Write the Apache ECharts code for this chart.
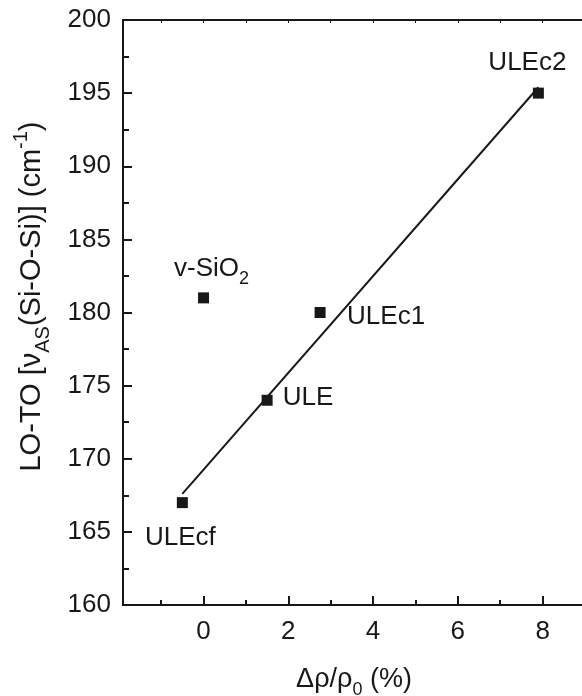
<!DOCTYPE html>
<html>
<head>
<meta charset="utf-8">
<script src="https://cdn.jsdelivr.net/npm/echarts@6/dist/echarts.min.js"></script>
<style>
html, body { margin: 0; padding: 0; background: #fff; }
#chart { width: 582px; height: 696px; }
</style>
</head>
<body>
<div id="chart"></div>
<script>
// sample points
const sampleNames = ['ULEcf', 'v-SiO2', 'ULE', 'ULEc1', 'ULEc2']
const densityChange = [-0.5, 0, 1.5, 2.75, 7.9]   // Δρ/ρ0 (%)
const lotoShift = [167, 181, 174, 180, 195]         // cm-1

// linear fit (drawn as a line between its ends)
const fitX = [-0.5, 7.9]
const fitY = [167.6, 195.4]

// ticks
const xMajorTicks = [0, 2, 4, 6, 8]
const xMinorTicks = [-1, 1, 3, 5, 7]

const ink = '#1a1718'
const font = 'Liberation Sans, Arial, sans-serif'

// label text + where it sits around its point
const labelText = {
    'ULEcf': 'ULEcf',
    'v-SiO2': 'v-SiO{sub|2}',
    'ULE': 'ULE',
    'ULEc1': 'ULEc1',
    'ULEc2': 'ULEc2'
}
const labelOffset = {
    'ULEcf': [-2, 35],
    'v-SiO2': [8, -29],
    'ULE': [41, -2],
    'ULEc1': [66, 4],
    'ULEc2': [-11, -30]
}

const subRich = {
    sub: { fontSize: 18, fontFamily: font, color: ink, lineHeight: 16, verticalAlign: 'bottom' },
    sup: { fontSize: 18, fontFamily: font, color: ink, lineHeight: 16, verticalAlign: 'top' }
}

const points = sampleNames.map((n, i) => ({
    name: n,
    value: [densityChange[i], lotoShift[i]],
    label: { offset: labelOffset[n] }
}))

const xMin = -1.9
const xMax = 9

const chart = echarts.init(document.getElementById('chart'))
chart.setOption({
    animation: false,
    backgroundColor: '#fff',
    grid: { left: 123, top: 20, width: 462, height: 585, outerBoundsMode: 'none', containLabel: false },
    xAxis: [{
        type: 'value',
        position: 'bottom',
        min: xMin,
        max: xMax,
        name: 'Δρ/ρ{sub|0} (%)',
        nameLocation: 'middle',
        nameGap: 56,
        nameTextStyle: {
            fontSize: 27, fontFamily: font, color: ink, lineHeight: 38,
            rich: subRich
        },
        axisLine: { onZero: false, lineStyle: { color: ink, width: 2 } },
        axisTick: { inside: true, length: 9, lineStyle: { color: ink, width: 2 }, customValues: xMajorTicks },
        axisLabel: { margin: 14, fontSize: 26, fontFamily: font, color: ink, customValues: xMajorTicks },
        splitLine: { show: false }
    }, {
        // odd-value minor ticks on the bottom
        type: 'value',
        position: 'bottom',
        min: xMin,
        max: xMax,
        axisLine: { show: false, onZero: false },
        axisTick: { inside: true, length: 5, lineStyle: { color: ink, width: 2 }, customValues: xMinorTicks },
        axisLabel: { show: false },
        splitLine: { show: false }
    }, {
        type: 'value',
        position: 'top',
        min: xMin,
        max: xMax,
        axisLine: { onZero: false, lineStyle: { color: ink, width: 2 } },
        axisTick: { inside: true, length: 3, lineStyle: { color: ink, width: 1 }, customValues: xMajorTicks.concat(xMinorTicks) },
        axisLabel: { show: false },
        splitLine: { show: false }
    }],
    yAxis: {
        type: 'value',
        min: 160,
        max: 200,
        interval: 5,
        name: 'LO-TO [ν{sub|AS}(Si-O-Si)] (cm{sup|-1})',
        nameLocation: 'middle',
        nameRotate: 90,
        nameGap: 70,
        nameTextStyle: {
            fontSize: 29, fontFamily: font, color: ink, lineHeight: 42,
            padding: [0, 0, 0, 32],
            rich: {
                sub: { fontSize: 20, fontFamily: font, color: ink, lineHeight: 18, verticalAlign: 'bottom' },
                sup: { fontSize: 20, fontFamily: font, color: ink, lineHeight: 18, verticalAlign: 'top' }
            }
        },
        axisLine: { show: true, onZero: false, lineStyle: { color: ink, width: 2 } },
        axisTick: { show: true, inside: true, length: 9, lineStyle: { color: ink, width: 2 } },
        minorTick: { show: true, splitNumber: 2, length: 6, lineStyle: { color: ink, width: 2 } },
        axisLabel: { margin: 12, fontSize: 26, fontFamily: font, color: ink },
        splitLine: { show: false },
        minorSplitLine: { show: false }
    },
    series: [{
        type: 'line',
        data: fitX.map((x, i) => [x, fitY[i]]),
        showSymbol: false,
        lineStyle: { color: ink, width: 2 },
        z: 2,
        silent: true
    }, {
        type: 'scatter',
        data: points,
        symbol: 'rect',
        symbolSize: 11,
        itemStyle: { color: ink, opacity: 1 },
        z: 3,
        label: {
            show: true,
            position: 'inside',
            fontSize: 26,
            lineHeight: 38,
            fontFamily: font,
            color: ink,
            formatter: p => labelText[p.name],
            rich: subRich
        }
    }]
})
</script>
</body>
</html>
